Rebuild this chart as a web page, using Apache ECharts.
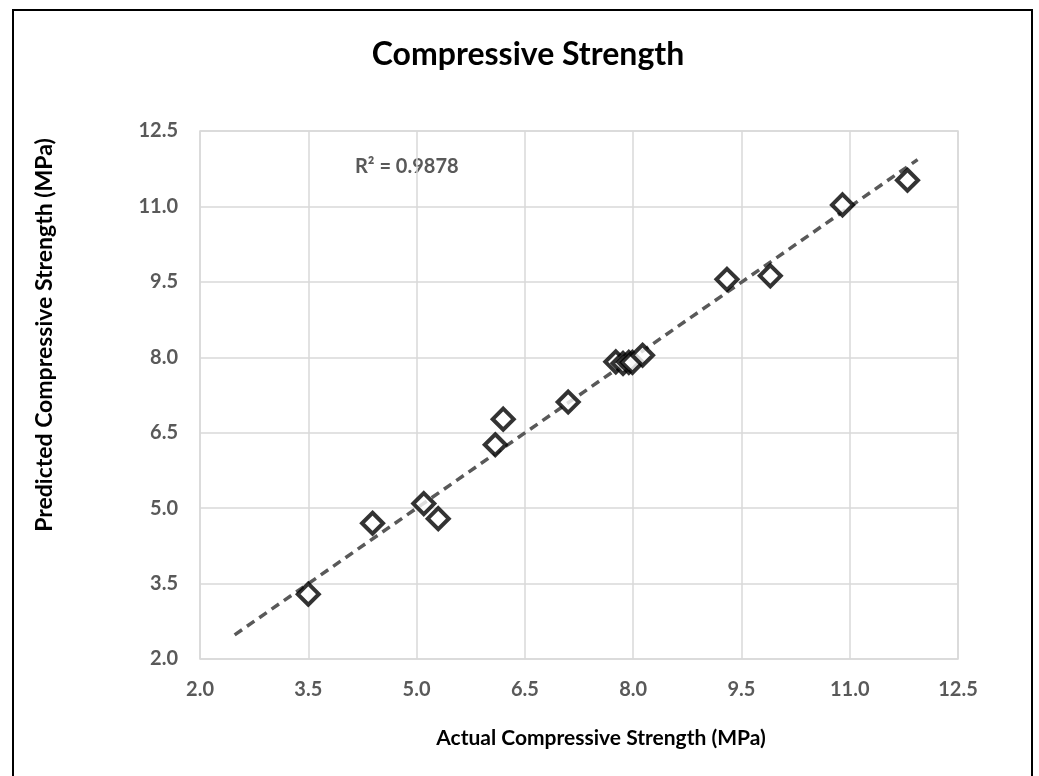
<!DOCTYPE html>
<html>
<head>
<meta charset="utf-8">
<script src="https://cdn.jsdelivr.net/npm/echarts@6/dist/echarts.min.js"></script>
<style>
html,body{margin:0;padding:0;background:#fff;}
#wrap{position:absolute;left:12px;top:9px;width:1021px;height:780px;border:2px solid #000;box-sizing:border-box;}
#chart{position:absolute;left:0;top:0;width:1039px;height:776px;}
</style>
</head>
<body>
<div id="wrap"></div>
<div id="chart"></div>
<script>
const actual    = [3.50, 4.39, 5.10, 5.30, 6.09, 6.20, 7.10, 7.76, 7.86, 7.94, 7.99, 8.13, 9.30, 9.90, 10.90, 11.80];
const predicted = [3.29, 4.70, 5.09, 4.79, 6.26, 6.77, 7.11, 7.91, 7.88, 7.90, 7.90, 8.04, 9.55, 9.62, 11.03, 11.52];
const trendX = [2.48, 11.94];
const trendY = [2.48, 11.93];
const tickValues = [2.0, 3.5, 5.0, 6.5, 8.0, 9.5, 11.0, 12.5];
const chartTitle = 'Compressive Strength';
const xTitle = 'Actual Compressive Strength (MPa)';
const yTitle = 'Predicted Compressive Strength (MPa)';
const r2Text = 'R² = 0.9878';

const points = actual.map((x, i) => [x, predicted[i]]);
const trend = trendX.map((x, i) => [x, trendY[i]]);

const chart = echarts.init(document.getElementById('chart'), null, {renderer: 'canvas'});
const font = 'Lato, "Open Sans", sans-serif';
const axisCommon = {
  type: 'value',
  min: tickValues[0],
  max: tickValues[tickValues.length - 1],
  interval: 1.5,
  axisLine: {show: false},
  axisTick: {show: false},
  splitLine: {show: true, lineStyle: {color: '#d9d9d9', width: 1.5}},
  axisLabel: {
    color: '#595959', fontSize: 20, fontWeight: 'bold', fontFamily: font,
    formatter: v => v.toFixed(1)
  }
};
chart.setOption({
  backgroundColor: 'transparent',
  animation: false,
  grid: {left: 200, top: 131, right: 81, bottom: 117, containLabel: false,
         show: true, borderColor: '#d9d9d9', borderWidth: 1.5},
  xAxis: Object.assign({}, axisCommon, {
    axisLabel: Object.assign({}, axisCommon.axisLabel, {margin: 21})
  }),
  yAxis: Object.assign({}, axisCommon, {
    axisLabel: Object.assign({}, axisCommon.axisLabel, {margin: 22})
  }),
  graphic: [
    {type: 'text', x: 528, y: 55,
     style: {text: chartTitle, fill: '#000', font: 'bold 32px ' + font, align: 'center', verticalAlign: 'middle'}},
    {type: 'text', x: 601, y: 738,
     style: {text: xTitle, fill: '#000', font: 'bold 21px ' + font, align: 'center', verticalAlign: 'middle'}},
    {type: 'text', x: 45, y: 335, rotation: Math.PI / 2,
     style: {text: yTitle, fill: '#000', font: 'bold 23px ' + font, align: 'center', verticalAlign: 'middle'}},
    {type: 'text', x: 355, y: 167,
     style: {text: r2Text, fill: '#595959', font: 'bold 20px ' + font, align: 'left', verticalAlign: 'middle'}}
  ],
  series: [
    {
      type: 'line', data: trend, symbol: 'none', silent: true, z: 3,
      lineStyle: {color: '#595959', width: 3.5, type: [9, 6]}
    },
    {
      type: 'scatter', data: points, symbol: 'diamond', symbolSize: 21, z: 4,
      itemStyle: {color: '#fff', borderColor: '#000', borderWidth: 4}
    }
  ]
});
</script>
</body>
</html>
